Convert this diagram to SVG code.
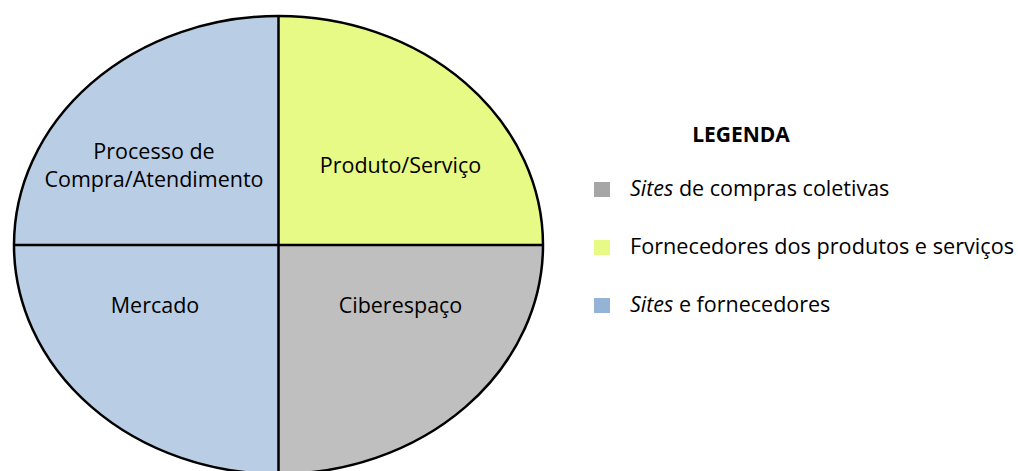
<svg xmlns="http://www.w3.org/2000/svg" width="1018" height="471" viewBox="0 0 1018 471">
<defs>
<style>
.t{font-family:"Open Sans","Liberation Sans",sans-serif;font-size:21.5px;fill:#000}
.c{text-anchor:middle}
.b{font-weight:bold;font-size:21px}
.q{stroke:none}
</style>
<clipPath id="e"><ellipse cx="278.5" cy="245" rx="264.5" ry="229"/></clipPath>
</defs>
<rect width="1018" height="471" fill="#fff"/>
<g id="diagram" clip-path="url(#e)">
<g id="q-processo"><rect x="0" y="0" width="278.5" height="245" fill="#B9CDE5"/></g>
<g id="q-produto"><rect x="278.5" y="0" width="300" height="245" fill="#E6FA85"/></g>
<g id="q-mercado"><rect x="0" y="245" width="278.5" height="260" fill="#B9CDE5"/></g>
<g id="q-ciber"><rect x="278.5" y="245" width="300" height="260" fill="#BFBFBF"/></g>
</g>
<g id="connectors" stroke="#000" stroke-width="2.5" fill="none">
<ellipse cx="278.5" cy="245" rx="264.5" ry="229"/>
<line x1="278.5" y1="16" x2="278.5" y2="474"/>
<line x1="14" y1="245" x2="543" y2="245"/>
</g>
<g id="labels">
<text class="t c" x="154" y="159">Processo de</text>
<text class="t c" x="154" y="187">Compra/Atendimento</text>
<text class="t c" x="400.5" y="173">Produto/Serviço</text>
<text class="t c" x="155" y="313">Mercado</text>
<text class="t c" x="400.5" y="313">Ciberespaço</text>
</g>
<g id="legend">
<text class="t c b" x="741" y="142">LEGENDA</text>
<rect class="q" x="594" y="182" width="16" height="15" fill="#A6A6A6"/>
<text class="t" x="630" y="196"><tspan font-style="italic">Sites</tspan> de compras coletivas</text>
<rect class="q" x="594" y="240" width="16" height="15" fill="#E6FA85"/>
<text class="t" x="630" y="254" textLength="384" lengthAdjust="spacingAndGlyphs">Fornecedores dos produtos e serviços</text>
<rect class="q" x="594" y="298" width="16" height="15" fill="#95B3D7"/>
<text class="t" x="630" y="312"><tspan font-style="italic">Sites</tspan> e fornecedores</text>
</g>
</svg>
